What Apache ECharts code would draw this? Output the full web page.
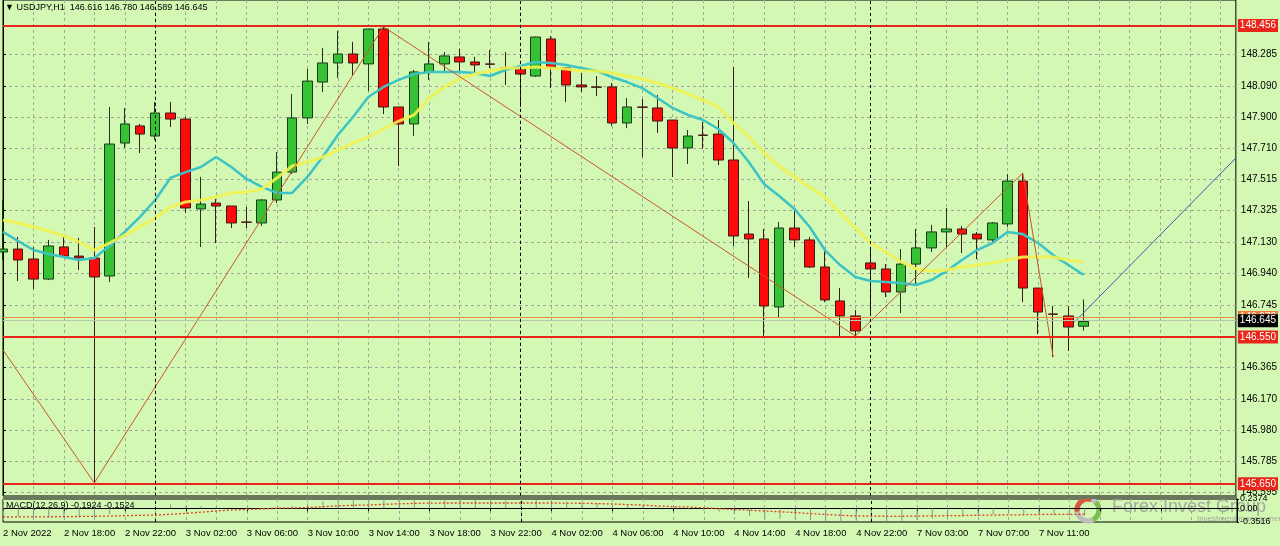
<!DOCTYPE html>
<html><head><meta charset="utf-8">
<script src="https://cdn.jsdelivr.net/npm/echarts@6/dist/echarts.min.js"></script>
<style>html,body{margin:0;padding:0;background:#d2f8b4;}#c{width:1280px;height:546px;}</style>
</head><body><div id="c"></div><script>
const symbol = 'USDJPY,H1';
const firstDateLabel = '2 Nov 2022';
const times = [
 '2 Nov 14:00','2 Nov 15:00','2 Nov 16:00','2 Nov 17:00','2 Nov 18:00','2 Nov 19:00','2 Nov 20:00','2 Nov 21:00','2 Nov 22:00','2 Nov 23:00',
 '3 Nov 00:00','3 Nov 01:00','3 Nov 02:00','3 Nov 03:00','3 Nov 04:00','3 Nov 05:00','3 Nov 06:00','3 Nov 07:00','3 Nov 08:00','3 Nov 09:00',
 '3 Nov 10:00','3 Nov 11:00','3 Nov 12:00','3 Nov 13:00','3 Nov 14:00','3 Nov 15:00','3 Nov 16:00','3 Nov 17:00','3 Nov 18:00','3 Nov 19:00',
 '3 Nov 20:00','3 Nov 21:00','3 Nov 22:00','3 Nov 23:00',
 '4 Nov 00:00','4 Nov 01:00','4 Nov 02:00','4 Nov 03:00','4 Nov 04:00','4 Nov 05:00','4 Nov 06:00','4 Nov 07:00','4 Nov 08:00','4 Nov 09:00',
 '4 Nov 10:00','4 Nov 11:00','4 Nov 12:00','4 Nov 13:00','4 Nov 14:00','4 Nov 15:00','4 Nov 16:00','4 Nov 17:00','4 Nov 18:00','4 Nov 19:00',
 '4 Nov 20:00','4 Nov 21:00','4 Nov 22:00',
 '7 Nov 00:00','7 Nov 01:00','7 Nov 02:00','7 Nov 03:00','7 Nov 04:00','7 Nov 05:00','7 Nov 06:00','7 Nov 07:00','7 Nov 08:00','7 Nov 09:00',
 '7 Nov 10:00','7 Nov 11:00','7 Nov 12:00','7 Nov 13:00','7 Nov 14:00'
];
const futureSlots = ['+1','+2','+3','+4','+5','+6','+7','+8','+9','+10'];

const opens = [147.071,147.089,147.028,146.905,147.102,147.046,147.034,146.924,147.739,147.844,
 147.782,147.923,147.886,147.335,147.371,147.353,147.255,147.249,147.390,147.561,
 147.893,148.113,148.230,148.285,148.224,148.438,147.960,147.856,148.175,148.224,
 148.267,148.236,148.224,148.199,148.193,148.150,148.377,148.199,148.095,148.083,
 148.083,147.862,147.960,147.954,147.880,147.709,147.788,147.794,147.635,147.181,
 147.151,146.734,147.218,147.145,146.979,146.771,146.679,147.004,146.967,146.826,
 146.997,147.096,147.194,147.212,147.181,147.145,147.243,147.506,146.850,146.691,
 146.679,146.616];
const closes = [147.089,147.022,146.905,147.108,147.046,147.034,146.918,147.733,147.856,147.794,
 147.923,147.886,147.341,147.365,147.353,147.249,147.253,147.390,147.561,147.893,
 148.119,148.230,148.285,148.230,148.438,147.960,147.856,148.175,148.224,148.273,
 148.236,148.218,148.222,148.197,148.162,148.389,148.199,148.095,148.083,148.081,
 147.862,147.960,147.958,147.874,147.709,147.782,147.786,147.635,147.169,147.151,
 146.740,147.218,147.145,146.979,146.777,146.679,146.587,146.967,146.826,146.997,
 147.096,147.194,147.212,147.181,147.151,147.249,147.506,146.850,146.703,146.689,
 146.611,146.645];
const highs = [147.390,147.163,147.102,147.145,147.163,147.157,147.224,147.960,147.954,147.856,
 147.991,147.991,147.899,147.531,147.396,147.353,147.347,147.396,147.684,148.040,
 148.193,148.322,148.426,148.359,148.440,148.452,147.960,148.187,148.359,148.297,
 148.316,148.267,148.309,148.297,148.199,148.391,148.395,148.205,148.168,148.150,
 148.107,148.015,148.009,148.034,147.880,147.819,147.868,147.880,148.205,147.384,
 147.212,147.255,147.328,147.163,147.096,146.850,146.715,147.102,146.997,147.089,
 147.212,147.237,147.341,147.230,147.194,147.255,147.549,147.555,146.850,146.740,
 146.740,146.780];
const lows = [147.022,146.893,146.844,146.899,147.040,146.961,145.655,146.887,147.709,147.678,
 147.758,147.837,147.310,147.102,147.126,147.218,147.218,147.230,147.371,147.549,
 147.856,148.052,148.138,148.156,148.058,147.917,147.598,147.782,148.126,148.168,
 148.168,148.175,148.199,148.095,147.960,148.144,148.076,147.991,148.052,148.027,
 147.844,147.831,147.653,147.801,147.531,147.611,147.703,147.604,147.108,146.912,
 146.556,146.672,147.102,146.973,146.764,146.556,146.556,146.697,146.795,146.697,
 146.875,147.071,147.096,147.065,147.028,147.120,147.224,146.764,146.568,146.427,
 146.464,146.589];

const maFast = [147.194,147.138,147.083,147.059,147.040,147.022,147.034,147.108,147.194,147.286,
 147.390,147.525,147.561,147.592,147.653,147.592,147.519,147.470,147.433,147.433,
 147.531,147.653,147.788,147.899,148.021,148.083,148.126,148.162,148.175,148.175,
 148.175,148.168,148.150,148.187,148.211,148.236,148.230,148.217,148.199,148.181,
 148.144,148.113,148.076,148.015,147.954,147.911,147.880,147.825,147.739,147.623,
 147.488,147.414,147.335,147.224,147.083,146.991,146.918,146.893,146.887,146.881,
 146.869,146.899,146.954,147.022,147.083,147.126,147.194,147.181,147.126,147.052,
 146.991,146.930];
const maSlow = [147.267,147.249,147.224,147.200,147.169,147.132,147.083,147.126,147.175,147.224,
 147.279,147.347,147.378,147.390,147.408,147.433,147.439,147.457,147.525,147.598,
 147.623,147.653,147.696,147.739,147.776,147.825,147.874,147.911,148.015,148.083,
 148.132,148.162,148.181,148.199,148.199,148.205,148.199,148.193,148.181,148.181,
 148.168,148.150,148.132,148.107,148.076,148.040,148.003,147.960,147.862,147.776,
 147.678,147.598,147.531,147.470,147.408,147.310,147.218,147.126,147.071,147.010,
 146.967,146.954,146.961,146.979,146.991,147.004,147.022,147.040,147.040,147.040,
 147.022,147.010];

const macdMain = [-0.20,-0.22,-0.25,-0.24,-0.24,-0.24,-0.26,-0.15,-0.06,0.00,
 0.06,0.10,0.07,0.05,0.03,0.00,-0.02,-0.02,0.01,0.06,
 0.12,0.18,0.21,0.23,0.2374,0.23,0.21,0.22,0.23,0.23,
 0.23,0.22,0.21,0.20,0.19,0.21,0.19,0.17,0.15,0.13,
 0.09,0.07,0.05,0.03,-0.01,-0.03,-0.05,-0.08,-0.15,-0.20,
 -0.27,-0.27,-0.28,-0.30,-0.33,-0.35,-0.3516,-0.34,-0.34,-0.32,
 -0.29,-0.26,-0.23,-0.21,-0.19,-0.16,-0.11,-0.14,-0.16,-0.18,
 -0.19,-0.1924];
const macdSignal = [-0.224,-0.222,-0.220,-0.218,-0.215,-0.210,-0.205,-0.200,-0.190,-0.180,
 -0.172,-0.155,-0.130,-0.100,-0.070,-0.044,-0.030,-0.015,0.000,0.007,
 0.020,0.040,0.060,0.075,0.084,0.100,0.115,0.125,0.133,0.135,
 0.135,0.135,0.135,0.135,0.135,0.135,0.135,0.133,0.128,0.120,
 0.109,0.095,0.080,0.060,0.040,0.033,0.010,-0.010,-0.030,-0.050,
 -0.070,-0.090,-0.110,-0.135,-0.160,-0.180,-0.195,-0.200,-0.205,-0.205,
 -0.200,-0.195,-0.190,-0.185,-0.180,-0.175,-0.170,-0.165,-0.160,-0.157,
 -0.155,-0.1524];

const zigzag = [[0,146.470],[6,145.655],[25,148.452],[56,146.556],[67,147.555],[69,146.427]];
const projection = [[70.4,146.642],[81,147.647]];
const redLevels = ['148.456', '146.550', '145.650'];
const orangeLevel = '146.672';
const bidPrice = '146.645';
const priceTicks = [148.285,148.090,147.900,147.710,147.515,147.325,147.130,146.940,146.745,146.550,146.365,146.170,145.980,145.785,145.595];
const macdTicks = [0.2374, 0, -0.3516];
const daySeparators = ['3 Nov 00:00','4 Nov 00:00','7 Nov 00:00'];
const priceMin = 145.575, priceMax = 148.616;
const macdMin = -0.3516, macdMax = 0.2374;

const cats = times.concat(futureSlots);
const candles = opens.map((o,i)=>[o, closes[i], lows[i], highs[i]]);
const n = opens.length - 1;
const headerText = '\u25BC ' + symbol + '  ' + [opens[n],highs[n],lows[n],closes[n]].map(v=>v.toFixed(3)).join(' ');
const macdText = 'MACD(12,26,9) ' + macdMain[n].toFixed(4) + ' ' + macdSignal[n].toFixed(4);

const FONT = 'Liberation Sans';
const gridLine = {show:true, lineStyle:{color:'#9fab98', width:1, type:[3,3]}};
const sepStyle = {color:'#000', width:1, type:[3,3]};
function level(txt, lineColor, w, bg, fg){
  return {yAxis:+txt, lineStyle:{color:lineColor, width:w, type:'solid'},
    label:{show:true, position:'end', distance:2, formatter:txt, backgroundColor:bg, color:fg,
      fontFamily:FONT, fontSize:10, padding:[2,2,1,2]}};
}
const markLevels = [
  level(redLevels[0], '#e8261a', 2, '#e8261a', '#fff'),
  level(orangeLevel, '#f08a4a', 1, '#f07a3a', '#fff'),
  level(bidPrice, '#b6c7ae', 1, '#000', '#fff'),
  level(redLevels[1], '#e8261a', 2, '#e8261a', '#fff'),
  level(redLevels[2], '#e8261a', 2, '#e8261a', '#fff')
].concat(daySeparators.map(d=>({xAxis:d, lineStyle:sepStyle, label:{show:false}})));

const chart = echarts.init(document.getElementById('c'), null, {renderer:'canvas'});
chart.setOption({
  animation:false,
  backgroundColor:'#d2f8b4',
  textStyle:{fontFamily:FONT},
  grid:[
    {left:3, right:43, top:0, height:496, show:true, borderColor:'#000', borderWidth:1, backgroundColor:'transparent'},
    {left:3, right:43, top:499, height:23, show:true, borderColor:'#000', borderWidth:1, backgroundColor:'transparent'}
  ],
  xAxis:[
    {type:'category', gridIndex:0, data:cats, boundaryGap:false, axisLine:{show:false}, axisTick:{show:false}, axisLabel:{show:false},
      splitLine:Object.assign({interval:1}, gridLine)},
    {type:'category', gridIndex:1, data:cats, boundaryGap:false,
      axisLine:{show:true, lineStyle:{color:'#000'}},
      axisTick:{show:true, interval:3, length:3, lineStyle:{color:'#000'}},
      axisLabel:{interval:3, align:'left', margin:6, fontSize:9.5, color:'#000', fontFamily:FONT, showMaxLabel:false,
        formatter:(v,i)=> i===0 ? firstDateLabel : (i < times.length ? v : '')},
      splitLine:Object.assign({interval:1}, gridLine)},
    {type:'value', gridIndex:0, min:0, max:cats.length-1, show:false}
  ],
  yAxis:[
    {type:'value', gridIndex:0, position:'right', min:priceMin, max:priceMax, scale:true,
      axisLine:{show:true, lineStyle:{color:'#000'}},
      axisTick:{show:true, customValues:priceTicks, length:3, lineStyle:{color:'#000'}},
      axisLabel:{customValues:priceTicks, formatter:v=>v.toFixed(3), fontSize:10, color:'#000', margin:5, fontFamily:FONT},
      splitLine:gridLine},
    {type:'value', gridIndex:1, position:'right', min:macdMin, max:macdMax,
      axisLine:{show:true, lineStyle:{color:'#000'}},
      axisTick:{show:true, customValues:macdTicks, length:2, lineStyle:{color:'#000'}},
      axisLabel:{customValues:macdTicks, formatter:v=> v===0 ? '0.00' : String(v), fontSize:9, color:'#000', margin:3, fontFamily:FONT},
      splitLine:{show:false}}
  ],
  series:[
    {type:'candlestick', xAxisIndex:0, yAxisIndex:0, data:candles, barWidth:10, clip:false,
      itemStyle:{color:'#35c335', color0:'#ff0a0a', borderColor:'#1b381b', borderColor0:'#3b1c12', borderColorDoji:'#1b2a1b', borderWidth:1},
      markLine:{symbol:'none', silent:true, animation:false, data:markLevels}},
    {type:'line', xAxisIndex:0, yAxisIndex:0, data:maFast, symbol:'none', lineStyle:{color:'#3cc4c4', width:2.5}, z:3},
    {type:'line', xAxisIndex:0, yAxisIndex:0, data:maSlow, symbol:'none', lineStyle:{color:'#f2f250', width:3, opacity:0.9}, z:3},
    {type:'line', xAxisIndex:2, yAxisIndex:0, data:zigzag, symbol:'none', lineStyle:{color:'#c8562c', width:1}, z:4},
    {type:'line', xAxisIndex:2, yAxisIndex:0, data:projection, symbol:'none', lineStyle:{color:'#3f5cb0', width:1}, z:4},
    {type:'bar', xAxisIndex:1, yAxisIndex:1, data:macdMain, barWidth:1, itemStyle:{color:'#8c9588'},
      markLine:{symbol:'none', silent:true, animation:false, label:{show:false}, lineStyle:sepStyle, data:daySeparators.map(d=>({xAxis:d}))}},
    {type:'line', xAxisIndex:1, yAxisIndex:1, data:macdSignal, symbol:'none', z:5, lineStyle:{color:'#e0401c', width:1.3, type:[2,2]}}
  ],
  graphic:[
    {type:'rect', shape:{x:3, y:495.5, width:1234, height:3.5}, style:{fill:'#6b775f'}, z:50},
    {type:'text', left:5, top:3, style:{text:headerText, fontFamily:FONT, fontSize:9, fill:'#000'}, z:60},
    {type:'text', left:6, top:501, style:{text:macdText, fontFamily:FONT, fontSize:9, fill:'#000'}, z:60},
    {type:'group', z:70, children:[
      {type:'arc', shape:{cx:1088, cy:510, r:11, startAngle:0, endAngle:Math.PI*2}, style:{stroke:'#bdbdbd', lineWidth:5, fill:null}},
      {type:'arc', shape:{cx:1088, cy:510, r:11, startAngle:Math.PI*0.95, endAngle:Math.PI*1.6}, style:{stroke:'#d8583c', lineWidth:5, fill:null}},
      {type:'arc', shape:{cx:1088, cy:510, r:11, startAngle:-Math.PI*0.25, endAngle:Math.PI*0.35}, style:{stroke:'#7bbf4c', lineWidth:5, fill:null}},
      {type:'text', x:1112, y:498, style:{text:'Forex Invest Group', fontFamily:FONT, fontSize:18, fill:'#9a9a9a', opacity:0.85}},
      {type:'text', x:1197, y:515, style:{text:'Investment management c', fontFamily:FONT, fontSize:8, fill:'#9a9a9a', opacity:0.85}}
    ]}
  ]
});
</script></body></html>
